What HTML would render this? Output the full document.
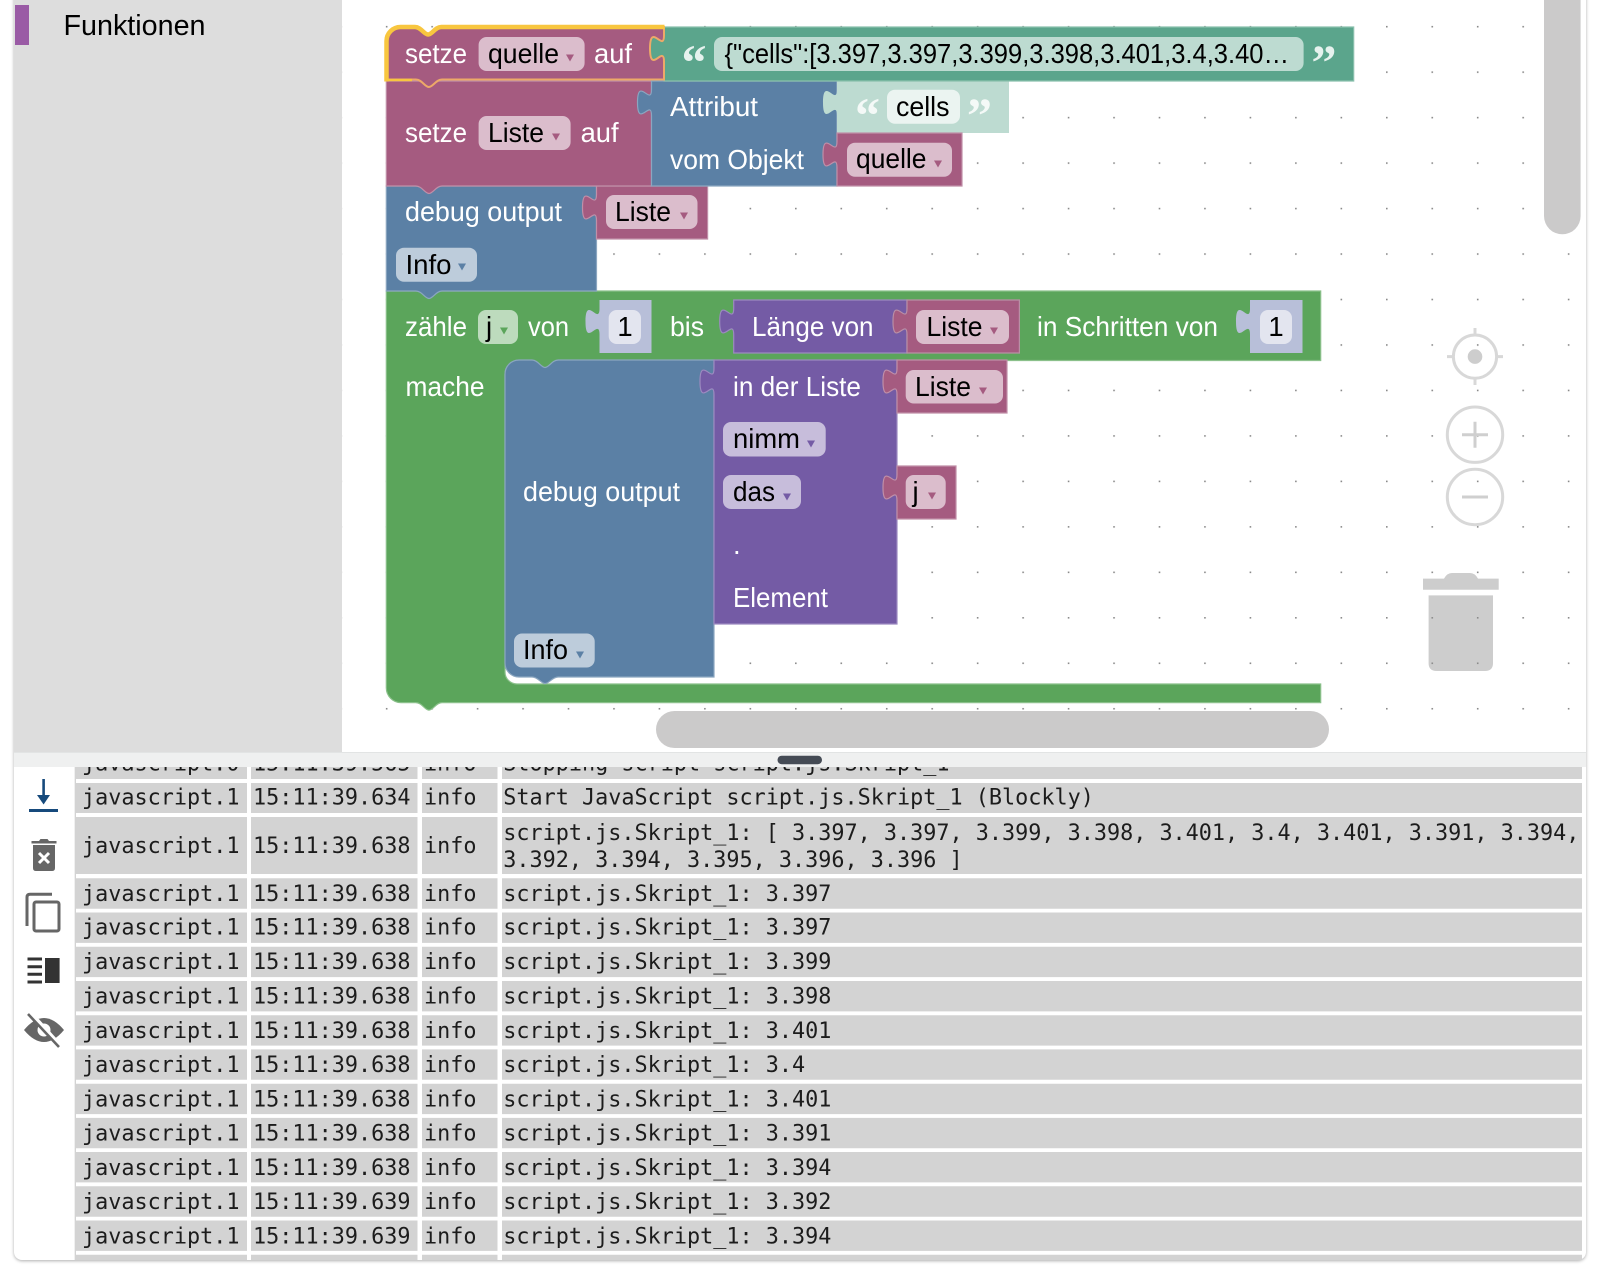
<!DOCTYPE html>
<html><head><meta charset="utf-8"><style>
html,body{margin:0;padding:0;background:#fff;width:1600px;height:1275px;overflow:hidden}
#p{position:absolute;left:14px;top:-10px;width:1572px;height:1270px;background:#fff;border-radius:8px;box-shadow:0 1px 3px rgba(0,0,0,.32)}
svg{position:absolute;left:0;top:0}
.t text{font-family:"Liberation Sans",sans-serif;font-size:27.5px;fill:#fff}
.t text.k{fill:#000}
.m text{font-family:"DejaVu Sans Mono",monospace;font-size:21.8px;fill:#1c1c1c}
.t text.q{font-family:"Liberation Serif",serif;font-weight:bold;font-size:50px}
.s{stroke-width:1.2}
</style></head><body><div id="p"></div>
<svg width="1600" height="1275" viewBox="0 0 1600 1275" xmlns="http://www.w3.org/2000/svg">
<defs>
<pattern id="g" x="22.2" y="25.9" width="45.46" height="45.47" patternUnits="userSpaceOnUse"><rect width="1.6" height="1.6" fill="#8a8a8a"/></pattern>
<linearGradient id="sh" x1="0" x2="1" y1="0" y2="0"><stop offset="0" stop-color="#fff"/><stop offset="1" stop-color="#c4c4c4"/></linearGradient>
<clipPath id="lc"><rect x="14" y="767" width="1572" height="493"/></clipPath>
</defs>
<!-- sidebar -->
<rect x="14" y="0" width="328" height="753" fill="#ddd"/>
<rect x="15" y="5" width="14" height="40" fill="#9a5ba5"/>
<text x="63.500" y="35" font-family="Liberation Sans,sans-serif" font-size="29" fill="#000" textLength="142" lengthAdjust="spacingAndGlyphs">Funktionen</text>
<!-- trash and controls -->
<g fill="#cdcdcd">
<path d="M1423,578.600 H1444 q3,-5.600 8,-5.600 H1470 q5,0 8,5.600 H1498.700 V589.700 H1423 Z"/>
<path d="M1428.600,595.400 H1493 V663 q0,8 -8,8 H1436.600 q-8,0 -8,-8 Z"/>
</g>
<rect x="342" y="0" width="1244" height="752" fill="url(#g)"/>
<g fill="none" stroke="#d8d8d8" stroke-width="3">
<circle cx="1475" cy="356.600" r="21.600"/><path d="M1475,328 V335 M1475,378 V385 M1447,356.600 H1453.400 M1496.600,356.600 H1503"/>
<circle cx="1475" cy="434.700" r="27.700"/><path d="M1462,434.700 H1488 M1475,421.700 V447.700" stroke="#cfcfcf"/>
<circle cx="1475" cy="497" r="27.700"/><path d="M1462,497 H1488" stroke="#cfcfcf"/>
</g>
<circle cx="1475" cy="356.600" r="7.300" fill="#cdcdcd"/>
<!-- BLOCKS -->
<g class="s">
<path fill="#5ba55b" stroke="#8ac08a" d="M386.300,291 H1320.700 V360.500 H558.200 c-6,0 -9,7.500 -13.100,7.500 c-4,0 -7,-7.500 -13.100,-7.500 H519 a14,14 0 0 0 -14,14 V672 a12,12 0 0 0 12,12 H1320.700 V702.600 H442 c-6,0 -9,7.500 -13.100,7.500 c-4,0 -7,-7.500 -13.100,-7.500 H401 a14.700,14.700 0 0 1 -14.700,-14.700 Z"/>
<path fill="#b8bfd9" d="M599.500,300 H651.500 V353 H599.500 V334.500 c0,-17.500 -14,14 -14,-13 s14,4.400 14,-13 Z"/>
<path fill="#745ba5" stroke="#9c8ac0" d="M733.700,300 H907 V353 H733.700 V334.500 c0,-17.500 -14,14 -14,-13 s14,4.400 14,-13 Z"/>
<path fill="#a55b80" stroke="#b98fa5" d="M907,300 H1019.400 V353 H907 V334.500 c0,-17.500 -14,14 -14,-13 s14,4.400 14,-13 Z"/>
<path fill="#b8bfd9" d="M1250,300 H1302.500 V353 H1250 V334.500 c0,-17.500 -14,14 -14,-13 s14,4.400 14,-13 Z"/>
<path fill="#5b80a5" stroke="#8ba6c0" d="M505,374 a14,14 0 0 1 14,-14 H532 c6,0 9,7.500 13.100,7.500 c4,0 7,-7.500 13.100,-7.500 H714 V677 H558.200 c-6,0 -9,6.500 -13.100,6.500 c-4,0 -7,-6.500 -13.100,-6.500 H519 a14,14 0 0 1 -14,-14 Z"/>
<path fill="#745ba5" stroke="#9c8ac0" d="M714,360 H897 V624 H714 V394.500 c0,-17.500 -14,14 -14,-13 s14,4.400 14,-13 Z"/>
<path fill="#a55b80" stroke="#c08fa8" d="M897,360 H1007 V413 H897 V394.500 c0,-17.500 -14,14 -14,-13 s14,4.400 14,-13 Z"/>
<path fill="#a55b80" stroke="#c08fa8" d="M897,466 H956 V519 H897 V500.500 c0,-17.500 -14,14 -14,-13 s14,4.400 14,-13 Z"/>
<path fill="#5b80a5" stroke="#8ba6c0" d="M386.300,186 H596.500 V291 H442 c-6,0 -9,7.500 -13.100,7.500 c-4,0 -7,-7.500 -13.100,-7.500 H386.300 Z"/>
<path fill="#a55b80" stroke="#c08fa8" d="M596.500,186 H707.600 V239 H596.500 V220.500 c0,-17.500 -14,14 -14,-13 s14,4.400 14,-13 Z"/>
<path fill="#a55b80" stroke="#c08fa8" d="M386.300,81 H651.500 V186 H442 c-6,0 -9,7.500 -13.100,7.500 c-4,0 -7,-7.500 -13.100,-7.500 H386.300 Z"/>
<path fill="#5b80a5" stroke="#8ba6c0" d="M651.500,81 H837 V186 H651.500 V115.500 c0,-17.500 -14,14 -14,-13 s14,4.400 14,-13 Z"/>
<path fill="#bddbd1" d="M837,81 H1009 V133 H837 V115.500 c0,-17.500 -14,14 -14,-13 s14,4.400 14,-13 Z"/>
<path fill="#a55b80" stroke="#c08fa8" d="M837,133 H962 V186 H837 V167.500 c0,-17.500 -14,14 -14,-13 s14,4.400 14,-13 Z"/>
<path fill="#5ba58c" stroke="#8ac0ad" d="M664,27 H1353.700 V81 H664 V61.500 c0,-17.500 -14,14 -14,-13 s14,4.400 14,-13 Z"/>
<!-- selected block -->
<path fill="#a55b80" stroke="#eda968" stroke-width="2" d="M386.300,41 a14,14 0 0 1 14,-14 H415 c6,0 9,7.500 13.100,7.500 c4,0 7,-7.500 13.100,-7.500 H664 V35.500 c0,17.500 -14,-14 -14,13 s14,-4.400 14,13 V79.500 H442 c-6,0 -9,7.500 -13.100,7.500 c-4,0 -7,-7.500 -13.100,-7.500 H386.300 Z"/>
<path fill="none" stroke="#f8c63f" stroke-width="4.500" d="M386.500,81.500 V41 a14,14 0 0 1 14,-14 H415 c6,0 9,7.500 13.100,7.500 c4,0 7,-7.500 13.100,-7.500 H664.500"/>
<path fill="none" stroke="#f8c63f" stroke-width="2.500" d="M385,80 H412"/>
</g>
<!-- fields -->
<g>
<g fill="#dbbdcc">
<rect x="478.600" y="37" width="106" height="34" rx="8"/>
<rect x="478.600" y="116" width="92" height="34" rx="8"/>
<rect x="847" y="142.700" width="105" height="34" rx="8"/>
<rect x="606" y="195" width="91.500" height="34" rx="8"/>
<rect x="916" y="310" width="93" height="34" rx="8"/>
<rect x="905.700" y="370" width="97.300" height="33.500" rx="8"/>
<rect x="905.700" y="475" width="40" height="34" rx="8"/>
</g>
<rect x="714" y="37" width="589.600" height="34" rx="8" fill="#bddbd1"/>
<rect x="887" y="89.700" width="73" height="34" rx="8" fill="#ebf4f1"/>
<rect x="396" y="247.700" width="81" height="34" rx="8" fill="#bdccdb"/>
<rect x="514" y="633.500" width="80.700" height="34" rx="8" fill="#bdccdb"/>
<rect x="478" y="310" width="40" height="34" rx="8" fill="#bddbbd"/>
<rect x="608.700" y="310" width="32.300" height="34" rx="8" fill="#e3e5ef"/>
<rect x="1260" y="310" width="32" height="34" rx="8" fill="#e3e5ef"/>
<rect x="723" y="422" width="102.700" height="34.500" rx="8" fill="#c7bddb"/>
<rect x="723" y="475" width="78" height="34" rx="8" fill="#c7bddb"/>
</g>
<!-- arrows -->
<g fill="#a55b80">
<path d="M566,54.500 h8 l-4,7 z"/><path d="M552,133.500 h8 l-4,7 z"/><path d="M934,160.500 h8 l-4,7 z"/><path d="M680,212.500 h8 l-4,7 z"/><path d="M990,327.500 h8 l-4,7 z"/><path d="M979,387.500 h8 l-4,7 z"/><path d="M928,492.500 h8 l-4,7 z"/>
</g>
<g fill="#5b80a5"><path d="M458,263.500 h8 l-4,7 z"/><path d="M576,651.500 h8 l-4,7 z"/></g>
<path fill="#5ba55b" d="M500,327.500 h8 l-4,7 z"/>
<g fill="#745ba5"><path d="M807,440.500 h8 l-4,7 z"/><path d="M783,493.500 h8 l-4,7 z"/></g>
<!-- labels -->
<g class="t">
<text x="405" y="63" textLength="62" lengthAdjust="spacingAndGlyphs">setze</text>
<text class="k" x="488" y="63" textLength="71" lengthAdjust="spacingAndGlyphs">quelle</text>
<text x="594" y="63" textLength="38" lengthAdjust="spacingAndGlyphs">auf</text>
<text class="q" x="681.500" y="79" style="fill:#e6f2ee">“</text>
<text class="k" x="724.500" y="63" textLength="564.500" lengthAdjust="spacingAndGlyphs">{"cells":[3.397,3.397,3.399,3.398,3.401,3.4,3.40…</text>
<text class="q" x="1311.500" y="79" style="fill:#e6f2ee">”</text>
<text x="405" y="142" textLength="62" lengthAdjust="spacingAndGlyphs">setze</text>
<text class="k" x="488" y="142" textLength="56" lengthAdjust="spacingAndGlyphs">Liste</text>
<text x="580.600" y="142" textLength="38" lengthAdjust="spacingAndGlyphs">auf</text>
<text x="670" y="116" textLength="88" lengthAdjust="spacingAndGlyphs">Attribut</text>
<text x="670" y="169" textLength="134" lengthAdjust="spacingAndGlyphs">vom Objekt</text>
<text class="q" x="855" y="132" style="fill:#f4f9f7">“</text>
<text class="k" x="896" y="116" textLength="53.500" lengthAdjust="spacingAndGlyphs">cells</text>
<text class="q" x="967" y="132" style="fill:#f4f9f7">”</text>
<text class="k" x="856" y="168" textLength="70.500" lengthAdjust="spacingAndGlyphs">quelle</text>
<text x="405" y="221" textLength="157" lengthAdjust="spacingAndGlyphs">debug output</text>
<text class="k" x="615" y="221" textLength="56" lengthAdjust="spacingAndGlyphs">Liste</text>
<text class="k" x="405.500" y="274" textLength="46" lengthAdjust="spacingAndGlyphs">Info</text>
<text x="405" y="336" textLength="62" lengthAdjust="spacingAndGlyphs">zähle</text>
<text class="k" x="486" y="336">j</text>
<text x="528" y="336" textLength="41" lengthAdjust="spacingAndGlyphs">von</text>
<text class="k" x="625" y="336" text-anchor="middle">1</text>
<text x="670" y="336" textLength="34" lengthAdjust="spacingAndGlyphs">bis</text>
<text x="752" y="336" textLength="121.500" lengthAdjust="spacingAndGlyphs">Länge von</text>
<text class="k" x="926.500" y="336" textLength="56" lengthAdjust="spacingAndGlyphs">Liste</text>
<text x="1037" y="336" textLength="181" lengthAdjust="spacingAndGlyphs">in Schritten von</text>
<text class="k" x="1276" y="336" text-anchor="middle">1</text>
<text x="405.500" y="396" textLength="79" lengthAdjust="spacingAndGlyphs">mache</text>
<text x="733" y="396" textLength="128" lengthAdjust="spacingAndGlyphs">in der Liste</text>
<text class="k" x="915" y="396" textLength="56" lengthAdjust="spacingAndGlyphs">Liste</text>
<text class="k" x="733" y="448" textLength="67" lengthAdjust="spacingAndGlyphs">nimm</text>
<text class="k" x="733" y="501" textLength="42" lengthAdjust="spacingAndGlyphs">das</text>
<text class="k" x="912.500" y="501">j</text>
<text x="523" y="501" textLength="157" lengthAdjust="spacingAndGlyphs">debug output</text>
<text x="733" y="554">.</text>
<text x="733" y="607" textLength="95" lengthAdjust="spacingAndGlyphs">Element</text>
<text class="k" x="523" y="659" textLength="45" lengthAdjust="spacingAndGlyphs">Info</text>
</g>
<!-- scrollbars -->
<g fill="#cbcaca">
<path d="M1544,0 H1580.600 V216 a18.300,18.300 0 0 1 -36.600,0 Z"/>
<rect x="656" y="711" width="673" height="37" rx="18.500"/>
</g>
<!-- divider -->
<rect x="14" y="752" width="1572" height="1" fill="#e2e4e4"/>
<rect x="14" y="753" width="1572" height="14" fill="#eff0f0"/>
<rect x="777.500" y="755.700" width="44.500" height="8.500" rx="4.200" fill="#454b55"/>
<!-- log table -->
<rect x="74" y="767" width="2" height="493" fill="url(#sh)"/>
<g clip-path="url(#lc)">
<g fill="#d3d3d3">
<path d="M76,749 h171 v30 h-171z M251,749 h166.500 v30 h-166.500z M422,749 h75.500 v30 h-75.500z M502,749 h1080 v30 h-1080z"/>
<path d="M76,783 h171 v30 h-171z M251,783 h166.500 v30 h-166.500z M422,783 h75.500 v30 h-75.500z M502,783 h1080 v30 h-1080z"/>
<path d="M76,817 h171 v57 h-171z M251,817 h166.500 v57 h-166.500z M422,817 h75.500 v57 h-75.500z M502,817 h1080 v57 h-1080z"/>
<path d="M76,878.300 h171 v30.400 h-171z M251,878.300 h166.500 v30.400 h-166.500z M422,878.300 h75.500 v30.400 h-75.500z M502,878.300 h1080 v30.400 h-1080z"/>
<path d="M76,912.500 h171 v30.400 h-171z M251,912.500 h166.500 v30.400 h-166.500z M422,912.500 h75.500 v30.400 h-75.500z M502,912.500 h1080 v30.400 h-1080z"/>
<path d="M76,946.700 h171 v30.400 h-171z M251,946.700 h166.500 v30.400 h-166.500z M422,946.700 h75.500 v30.400 h-75.500z M502,946.700 h1080 v30.400 h-1080z"/>
<path d="M76,981 h171 v30.400 h-171z M251,981 h166.500 v30.400 h-166.500z M422,981 h75.500 v30.400 h-75.500z M502,981 h1080 v30.400 h-1080z"/>
<path d="M76,1015.200 h171 v30.400 h-171z M251,1015.200 h166.500 v30.400 h-166.500z M422,1015.200 h75.500 v30.400 h-75.500z M502,1015.200 h1080 v30.400 h-1080z"/>
<path d="M76,1049.400 h171 v30.400 h-171z M251,1049.400 h166.500 v30.400 h-166.500z M422,1049.400 h75.500 v30.400 h-75.500z M502,1049.400 h1080 v30.400 h-1080z"/>
<path d="M76,1083.700 h171 v30.400 h-171z M251,1083.700 h166.500 v30.400 h-166.500z M422,1083.700 h75.500 v30.400 h-75.500z M502,1083.700 h1080 v30.400 h-1080z"/>
<path d="M76,1117.900 h171 v30.400 h-171z M251,1117.900 h166.500 v30.400 h-166.500z M422,1117.900 h75.500 v30.400 h-75.500z M502,1117.900 h1080 v30.400 h-1080z"/>
<path d="M76,1152 h171 v30.400 h-171z M251,1152 h166.500 v30.400 h-166.500z M422,1152 h75.500 v30.400 h-75.500z M502,1152 h1080 v30.400 h-1080z"/>
<path d="M76,1186.300 h171 v30.400 h-171z M251,1186.300 h166.500 v30.400 h-166.500z M422,1186.300 h75.500 v30.400 h-75.500z M502,1186.300 h1080 v30.400 h-1080z"/>
<path d="M76,1220.500 h171 v30.400 h-171z M251,1220.500 h166.500 v30.400 h-166.500z M422,1220.500 h75.500 v30.400 h-75.500z M502,1220.500 h1080 v30.400 h-1080z"/>
<path d="M76,1254.800 h171 v30.400 h-171z M251,1254.800 h166.500 v30.400 h-166.500z M422,1254.800 h75.500 v30.400 h-75.500z M502,1254.800 h1080 v30.400 h-1080z"/>
</g>
<g class="m">
<text x="82" y="770.300">javascript.0</text><text x="253" y="770.300">15:11:39.565</text><text x="424" y="770.300">info</text><text x="503.300" y="770.300">Stopping script script.js.Skript_1</text>
<text x="82" y="804.500">javascript.1</text><text x="253" y="804.500">15:11:39.634</text><text x="424" y="804.500">info</text><text x="503.300" y="804.500">Start JavaScript script.js.Skript_1 (Blockly)</text>
<text x="82" y="853">javascript.1</text><text x="253" y="853">15:11:39.638</text><text x="424" y="853">info</text>
<text x="503.300" y="840">script.js.Skript_1: [ 3.397, 3.397, 3.399, 3.398, 3.401, 3.4, 3.401, 3.391, 3.394,</text>
<text x="503.300" y="867">3.392, 3.394, 3.395, 3.396, 3.396 ]</text>
<text x="82" y="900.800">javascript.1</text><text x="253" y="900.800">15:11:39.638</text><text x="424" y="900.800">info</text><text x="503.300" y="900.800">script.js.Skript_1: 3.397</text>
<text x="82" y="934.500">javascript.1</text><text x="253" y="934.500">15:11:39.638</text><text x="424" y="934.500">info</text><text x="503.300" y="934.500">script.js.Skript_1: 3.397</text>
<text x="82" y="969.200">javascript.1</text><text x="253" y="969.200">15:11:39.638</text><text x="424" y="969.200">info</text><text x="503.300" y="969.200">script.js.Skript_1: 3.399</text>
<text x="82" y="1003.700">javascript.1</text><text x="253" y="1003.700">15:11:39.638</text><text x="424" y="1003.700">info</text><text x="503.300" y="1003.700">script.js.Skript_1: 3.398</text>
<text x="82" y="1038">javascript.1</text><text x="253" y="1038">15:11:39.638</text><text x="424" y="1038">info</text><text x="503.300" y="1038">script.js.Skript_1: 3.401</text>
<text x="82" y="1072.200">javascript.1</text><text x="253" y="1072.200">15:11:39.638</text><text x="424" y="1072.200">info</text><text x="503.300" y="1072.200">script.js.Skript_1: 3.4</text>
<text x="82" y="1106.500">javascript.1</text><text x="253" y="1106.500">15:11:39.638</text><text x="424" y="1106.500">info</text><text x="503.300" y="1106.500">script.js.Skript_1: 3.401</text>
<text x="82" y="1140.700">javascript.1</text><text x="253" y="1140.700">15:11:39.638</text><text x="424" y="1140.700">info</text><text x="503.300" y="1140.700">script.js.Skript_1: 3.391</text>
<text x="82" y="1174.900">javascript.1</text><text x="253" y="1174.900">15:11:39.638</text><text x="424" y="1174.900">info</text><text x="503.300" y="1174.900">script.js.Skript_1: 3.394</text>
<text x="82" y="1209">javascript.1</text><text x="253" y="1209">15:11:39.639</text><text x="424" y="1209">info</text><text x="503.300" y="1209">script.js.Skript_1: 3.392</text>
<text x="82" y="1243.300">javascript.1</text><text x="253" y="1243.300">15:11:39.639</text><text x="424" y="1243.300">info</text><text x="503.300" y="1243.300">script.js.Skript_1: 3.394</text>
</g>
</g>
<!-- toolbar icons -->
<g>
<path d="M43.600,779 V802" stroke="#164a7c" stroke-width="2.600" fill="none"/>
<path d="M37,795 L43.600,804.500 L50,795 Z" fill="#164a7c"/>
<rect x="29" y="809" width="29" height="3" fill="#164a7c"/>
<path d="M31.500,841 H39 l1.500,-2 h7 l1.500,2 H56.500 V843.500 H31.500 Z" fill="#666"/>
<path d="M33,845 H55 V868 q0,3 -3,3 H36 q-3,0 -3,-3 Z" fill="#666"/>
<path d="M39,853 L49,863 M49,853 L39,863" stroke="#fff" stroke-width="3"/>
<path d="M52,894.300 H30 q-3,0 -3,3 V926" fill="none" stroke="#666" stroke-width="3"/>
<rect x="34" y="902" width="25" height="29" rx="2" fill="none" stroke="#666" stroke-width="3"/>
<path d="M27.500,959 H42 M27.500,966.700 H42 M27.500,974.300 H42 M27.500,982 H42" stroke="#333" stroke-width="3"/>
<rect x="45" y="958" width="14.600" height="25" fill="#333"/>
<path d="M24,1030 Q44,1006 64,1030 Q44,1054 24,1030 Z" fill="#666"/>
<circle cx="44" cy="1030" r="6.500" fill="#fff"/>
<path d="M30,1013 L60,1046" stroke="#fff" stroke-width="5"/>
<path d="M28,1014 L59,1047" stroke="#666" stroke-width="2.600"/>
</g>
</svg>
</body></html>
